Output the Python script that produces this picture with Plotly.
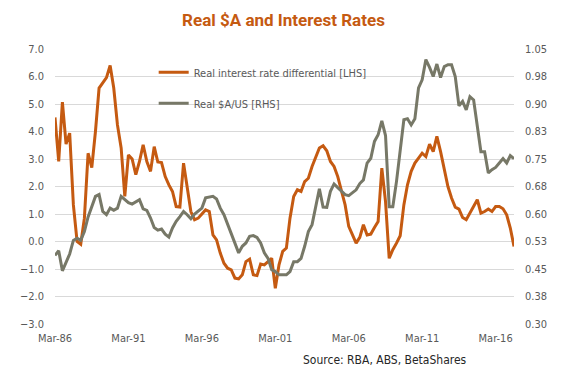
import plotly.graph_objects as go

# Quarterly periods Mar-1986 .. Jun-2017
quarters = [f"{1986 + i // 4}-{[3, 6, 9, 12][i % 4]:02d}-01" for i in range(126)]

real_rate_diff = [
    4.51, 2.91, 5.07, 3.54, 3.94, 1.33, 0.00, -0.10, 0.85, 3.21,
    2.69, 4.00, 5.58, 5.76, 5.96, 6.40, 5.58, 4.24, 3.40, 1.64,
    3.15, 3.00, 2.43, 2.91, 3.52, 2.91, 2.55, 3.45, 2.89, 2.87,
    2.36, 2.06, 1.82, 1.27, 1.25, 2.85, 1.94, 1.09, 0.79, 0.85,
    1.00, 1.15, 1.09, 0.24, 0.06, -0.42, -0.79, -0.97, -1.03, -1.33,
    -1.36, -1.21, -0.73, -0.64, -1.21, -1.24, -0.82, -0.85, -0.73, -0.61,
    -1.70, -0.85, -0.36, -0.24, 0.85, 1.64, 1.88, 1.82, 2.18, 2.30,
    2.73, 3.09, 3.40, 3.48, 3.30, 2.91, 2.73, 2.36, 1.82, 1.33,
    0.55, 0.24, -0.06, 0.15, 0.61, 0.24, 0.27, 0.51, 0.73, 2.67,
    1.45, -0.61, -0.30, -0.06, 0.21, 1.33, 2.06, 2.55, 2.85, 3.03,
    3.21, 3.09, 3.54, 3.27, 3.82, 3.27, 2.61, 2.00, 1.58, 1.25,
    1.18, 0.87, 0.79, 1.03, 1.27, 1.52, 1.03, 1.09, 1.18, 1.09,
    1.27, 1.27, 1.19, 0.97, 0.49, -0.18,
]

real_aud_usd = [
    0.487, 0.500, 0.445, 0.470, 0.491, 0.528, 0.534, 0.528, 0.552, 0.592,
    0.620, 0.648, 0.653, 0.607, 0.598, 0.616, 0.610, 0.616, 0.648, 0.639,
    0.631, 0.627, 0.634, 0.639, 0.614, 0.610, 0.589, 0.563, 0.556, 0.559,
    0.545, 0.537, 0.562, 0.580, 0.593, 0.607, 0.598, 0.587, 0.600, 0.609,
    0.616, 0.644, 0.645, 0.648, 0.641, 0.616, 0.598, 0.571, 0.548, 0.521,
    0.494, 0.512, 0.521, 0.539, 0.541, 0.536, 0.521, 0.494, 0.479, 0.448,
    0.443, 0.434, 0.434, 0.434, 0.443, 0.470, 0.470, 0.479, 0.512, 0.552,
    0.571, 0.616, 0.669, 0.619, 0.618, 0.662, 0.682, 0.672, 0.662, 0.653,
    0.650, 0.657, 0.666, 0.683, 0.693, 0.739, 0.752, 0.798, 0.816, 0.854,
    0.814, 0.620, 0.620, 0.689, 0.770, 0.857, 0.860, 0.843, 0.860, 0.944,
    0.966, 1.021, 1.000, 0.975, 1.009, 0.972, 1.002, 1.007, 1.007, 0.975,
    0.895, 0.907, 0.884, 0.920, 0.911, 0.843, 0.770, 0.770, 0.712, 0.721,
    0.727, 0.739, 0.751, 0.739, 0.759, 0.751,
]

x_tick_vals = ["1986-03-01", "1991-03-01", "1996-03-01", "2001-03-01",
               "2006-03-01", "2011-03-01", "2016-03-01"]
x_tick_text = ["Mar-86", "Mar-91", "Mar-96", "Mar-01", "Mar-06", "Mar-11", "Mar-16"]

left_ticks = [-3, -2, -1, 0, 1, 2, 3, 4, 5, 6, 7]
right_tick_vals = [0.30, 0.375, 0.45, 0.525, 0.60, 0.675, 0.75, 0.825, 0.90, 0.975, 1.05]
right_tick_text = ["0.30", "0.38", "0.45", "0.53", "0.60", "0.68", "0.75", "0.83", "0.90", "0.98", "1.05"]

ORANGE = "#C55A11"
GREY = "#777867"
FONT = "DejaVu Sans Condensed, Roboto, sans-serif"

fig = go.Figure()
fig.add_trace(go.Scatter(
    x=quarters, y=real_rate_diff, mode="lines",
    name="Real interest rate differential [LHS]",
    line=dict(color=ORANGE, width=3), legendgroup="a", yaxis="y",
))
fig.add_trace(go.Scatter(
    x=quarters, y=real_aud_usd, mode="lines",
    name="Real $A/US [RHS]",
    line=dict(color=GREY, width=3), legendgroup="b", yaxis="y2",
))

fig.update_layout(
    width=551, height=362,
    margin=dict(l=36, r=36, t=41, b=46),
    paper_bgcolor="white", plot_bgcolor="white",
    font=dict(family=FONT, size=11, color="#595959"),
    title=dict(text="<b>Real $A and Interest Rates</b>", x=0.5, xanchor="center",
               xref="container", yref="container",
               y=1 - 12 / 362, yanchor="middle",
               font=dict(family="Roboto, DejaVu Sans Condensed, sans-serif", size=17, color=ORANGE)),
    showlegend=True,
    legend=dict(x=0.215, y=0.968, xanchor="left", yanchor="top",
                bgcolor="rgba(0,0,0,0)",
                font=dict(family=FONT, size=11, color="#595959"),
                traceorder="grouped", tracegroupgap=12),
    xaxis=dict(type="date", range=["1986-03-01", "2017-06-01"],
               tickvals=x_tick_vals, ticktext=x_tick_text,
               showgrid=False, zeroline=False, showline=False, ticks="",
               ticklabelstandoff=6, tickfont=dict(size=11, color="#595959")),
    yaxis=dict(range=[-3, 7], tickvals=left_ticks, tickformat=".1f",
               showgrid=True, gridcolor="#D9D9D9", gridwidth=1,
               zeroline=False, showline=False, ticks="", ticklabelstandoff=10,
               tickfont=dict(size=11, color="#595959")),
    yaxis2=dict(range=[0.30, 1.05], overlaying="y", side="right",
                tickvals=right_tick_vals, ticktext=right_tick_text,
                showgrid=False, zeroline=False, showline=False, ticks="",
                ticklabelstandoff=10, tickfont=dict(size=11, color="#595959")),
    annotations=[dict(text="Source: RBA, ABS, BetaShares", xref="paper", yref="paper",
                      x=0.72, y=-0.13, xanchor="center", yanchor="middle",
                      showarrow=False,
                      font=dict(family=FONT, size=12, color="#262626"))],
)

fig.write_html("out.html")
